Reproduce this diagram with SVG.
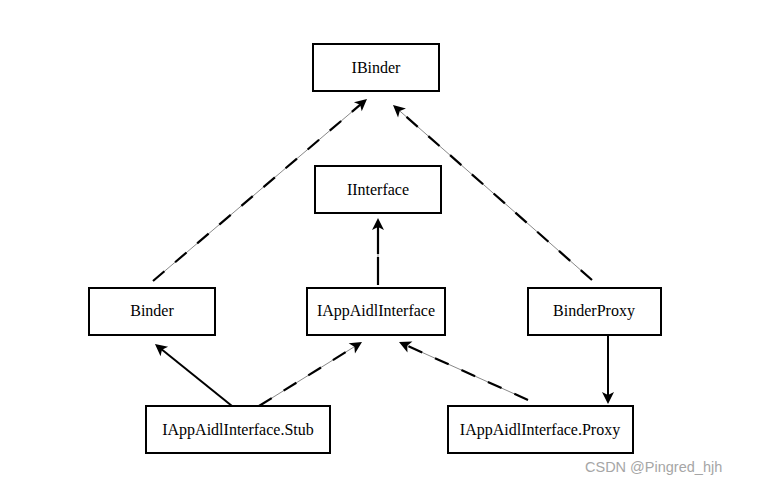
<svg xmlns="http://www.w3.org/2000/svg" width="764" height="487" viewBox="0 0 764 487">
<style>
.box{fill:#fff;stroke:#000;stroke-width:2}
.lbl{font-family:"Liberation Serif","DejaVu Serif",serif;font-size:16px;fill:#000;text-anchor:middle}
.solid{fill:none;stroke:#000;stroke-width:2}
.thin{fill:none;stroke:#555;stroke-width:0.7}
.dash{fill:none;stroke:#000;stroke-width:2.2;stroke-dasharray:15 14}
.wm{font-family:"Liberation Sans",Arial,sans-serif;font-size:14.5px;fill:#a6a6a6}
</style>
<defs>
<marker id="ah" markerUnits="userSpaceOnUse" markerWidth="14" markerHeight="14" refX="4" refY="0" viewBox="0 -7 14 14" orient="auto" overflow="visible">
<path d="M12,0 L0,-6 L3,0 L0,6 Z" fill="#000"/>
</marker>
</defs>
<rect width="764" height="487" fill="#fff"/>
<g id="connectors">
<line class="thin" x1="153" y1="281" x2="360.9" y2="104.2" marker-end="url(#ah)"/>
<line class="dash" x1="153" y1="281" x2="360.9" y2="104.2"/>
<line class="thin" x1="592" y1="280" x2="399" y2="110.3" marker-end="url(#ah)"/>
<line class="dash" x1="592" y1="280" x2="399" y2="110.3"/>
<line class="thin" x1="378" y1="285" x2="378" y2="226" marker-end="url(#ah)"/>
<line class="dash" x1="378" y1="285" x2="378" y2="226" style="stroke-dasharray:28 3"/>
<line class="solid" x1="232" y1="406" x2="161.2" y2="349" marker-end="url(#ah)"/>
<line class="thin" x1="259" y1="406" x2="355.2" y2="346.2" marker-end="url(#ah)"/>
<line class="dash" x1="259" y1="406" x2="355.2" y2="346.2"/>
<line class="thin" x1="528" y1="400" x2="406.3" y2="345.3" marker-end="url(#ah)"/>
<line class="dash" x1="528" y1="400" x2="406.3" y2="345.3"/>
<line class="solid" x1="608" y1="335" x2="608" y2="396" marker-end="url(#ah)"/>
</g>
<g id="IBinder"><rect class="box" x="313" y="44" width="126" height="47"/><text class="lbl" x="376" y="73">IBinder</text></g>
<g id="IInterface"><rect class="box" x="315" y="166" width="126" height="47"/><text class="lbl" x="378" y="195">IInterface</text></g>
<g id="Binder"><rect class="box" x="89" y="288" width="126" height="47"/><text class="lbl" x="152" y="316">Binder</text></g>
<g id="IAppAidlInterface"><rect class="box" x="307" y="288" width="138" height="47"/><text class="lbl" x="376" y="316">IAppAidlInterface</text></g>
<g id="BinderProxy"><rect class="box" x="528" y="288" width="133" height="47"/><text class="lbl" x="594" y="316">BinderProxy</text></g>
<g id="Stub"><rect class="box" x="146" y="406" width="184" height="47"/><text class="lbl" x="238" y="435">IAppAidlInterface.Stub</text></g>
<g id="Proxy"><rect class="box" x="448" y="406" width="185" height="47"/><text class="lbl" x="540" y="435">IAppAidlInterface.Proxy</text></g>
<text class="wm" x="585" y="472">CSDN @Pingred_hjh</text>
</svg>
